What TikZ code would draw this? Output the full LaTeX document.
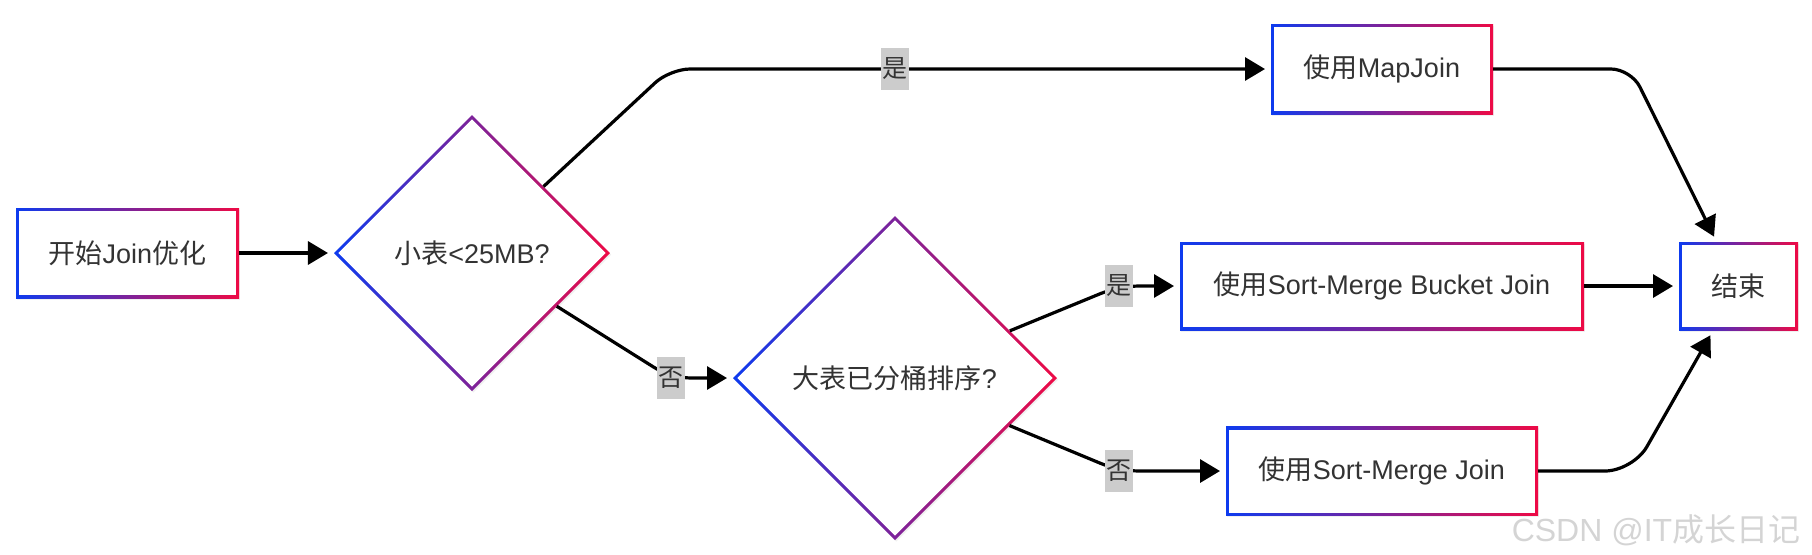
\documentclass[tikz,border=0pt]{standalone}
\usepackage{fontspec}
\setmainfont{Liberation Sans}
\newfontfamily\cjk{Noto Sans CJK SC}
\usetikzlibrary{arrows.meta,shapes.geometric,shadows}
\newcommand\zhtxt[1]{{\cjk #1}}
\definecolor{gblue}{HTML}{0D3BEF}
\definecolor{gred}{HTML}{EE0A45}
\definecolor{txtgray}{HTML}{333333}
\definecolor{lblgray}{HTML}{CCCCCC}
\definecolor{wmgray}{HTML}{D4D4D4}
\begin{document}
\begin{tikzpicture}[x=0.5pt,y=-0.5pt,
  nodefont/.style={font=\fontsize{13.5}{16}\selectfont, text=txtgray},
  gradbox/.style={nodefont, shape=rectangle, inner sep=0pt, outer sep=0pt,
    minimum height=45pt,
    drop shadow={opacity=0.12, shadow xshift=0.6pt, shadow yshift=-0.8pt},
    path picture={
      \shade[left color=gblue, right color=gred]
        (path picture bounding box.south west) rectangle (path picture bounding box.north east);
      \fill[white]
        ([shift={(1.5pt,1.5pt)}]path picture bounding box.south west) rectangle
        ([shift={(-1.5pt,-1.5pt)}]path picture bounding box.north east);
    }},
  graddiamond/.style={nodefont, shape=diamond, inner sep=0pt, outer sep=0pt,
    aspect=1,
    drop shadow={opacity=0.12, shadow xshift=0.6pt, shadow yshift=-0.8pt},
    path picture={
      \shade[left color=gblue, right color=gred]
        (path picture bounding box.south west) rectangle (path picture bounding box.north east);
      \fill[white]
        ([xshift=2.2pt]path picture bounding box.west) --
        ([yshift=-2.2pt]path picture bounding box.north) --
        ([xshift=-2.2pt]path picture bounding box.east) --
        ([yshift=2.2pt]path picture bounding box.south) -- cycle;
    }},
  flow/.style={draw=black, line width=1.6pt, rounded corners=10pt,
    -{Triangle[length=10pt,width=11.5pt]}, shorten >=3pt},
  lbl/.style={fill=lblgray, inner sep=0pt, minimum width=14pt, minimum height=21pt,
    font=\cjk\fontsize{12.5}{14}\selectfont, text=txtgray},
  wm/.style={text=wmgray, font=\fontsize{16}{18}\selectfont, inner sep=0pt}
]
\useasboundingbox (0,0) rectangle (1812,554);

% nodes
\node[gradbox, minimum width=111.5pt] (start) at (127.5,253) {\zhtxt{开始}Join\zhtxt{优化}};
\node[graddiamond, minimum width=138pt, minimum height=138pt] (d1) at (472,253) {\zhtxt{小表}<25MB?};
\node[graddiamond, minimum width=162pt, minimum height=162pt] (d2) at (895,378) {\zhtxt{大表已分桶排序}?};
\node[gradbox, minimum width=111pt] (mj) at (1382,69) {\zhtxt{使用}MapJoin};
\node[gradbox, minimum width=202pt, minimum height=44pt] (smb) at (1382,286) {\zhtxt{使用}Sort-Merge Bucket Join};
\node[gradbox, minimum width=156pt, minimum height=44.5pt] (smj) at (1382,471) {\zhtxt{使用}Sort-Merge Join};
\node[gradbox, minimum width=59.5pt, minimum height=44pt] (end) at (1738.5,286) {\zhtxt{结束}};

% bend points
\coordinate (c1) at (670,69);
\coordinate (c2) at (671,378);
\coordinate (c3) at (1119,286);
\coordinate (c4) at (1119,471);
\coordinate (c5) at (1631,69);
\coordinate (c6) at (1633,471);

% connectors
\draw[flow] (start) -- (d1);
\draw[flow] (d1) -- (c1) -- (mj);
\draw[flow] (d1) -- (c2) -- (d2);
\draw[flow] (d2) -- (c3) -- (smb);
\draw[flow] (d2) -- (c4) -- (smj);
\draw[flow] (mj) -- (c5) -- (end);
\draw[flow] (smb) -- (end);
\draw[flow, rounded corners=14pt] (smj) -- (c6) -- (end);

% labels
\node[lbl] (l1) at (895,69) {是};
\node[lbl] (l2) at (c2) {否};
\node[lbl] (l3) at (c3) {是};
\node[lbl] (l4) at (c4) {否};

% watermark
\node[wm] (wmark) at (1656,530) {CSDN @IT\zhtxt{成长日记}};
\end{tikzpicture}
\end{document}
